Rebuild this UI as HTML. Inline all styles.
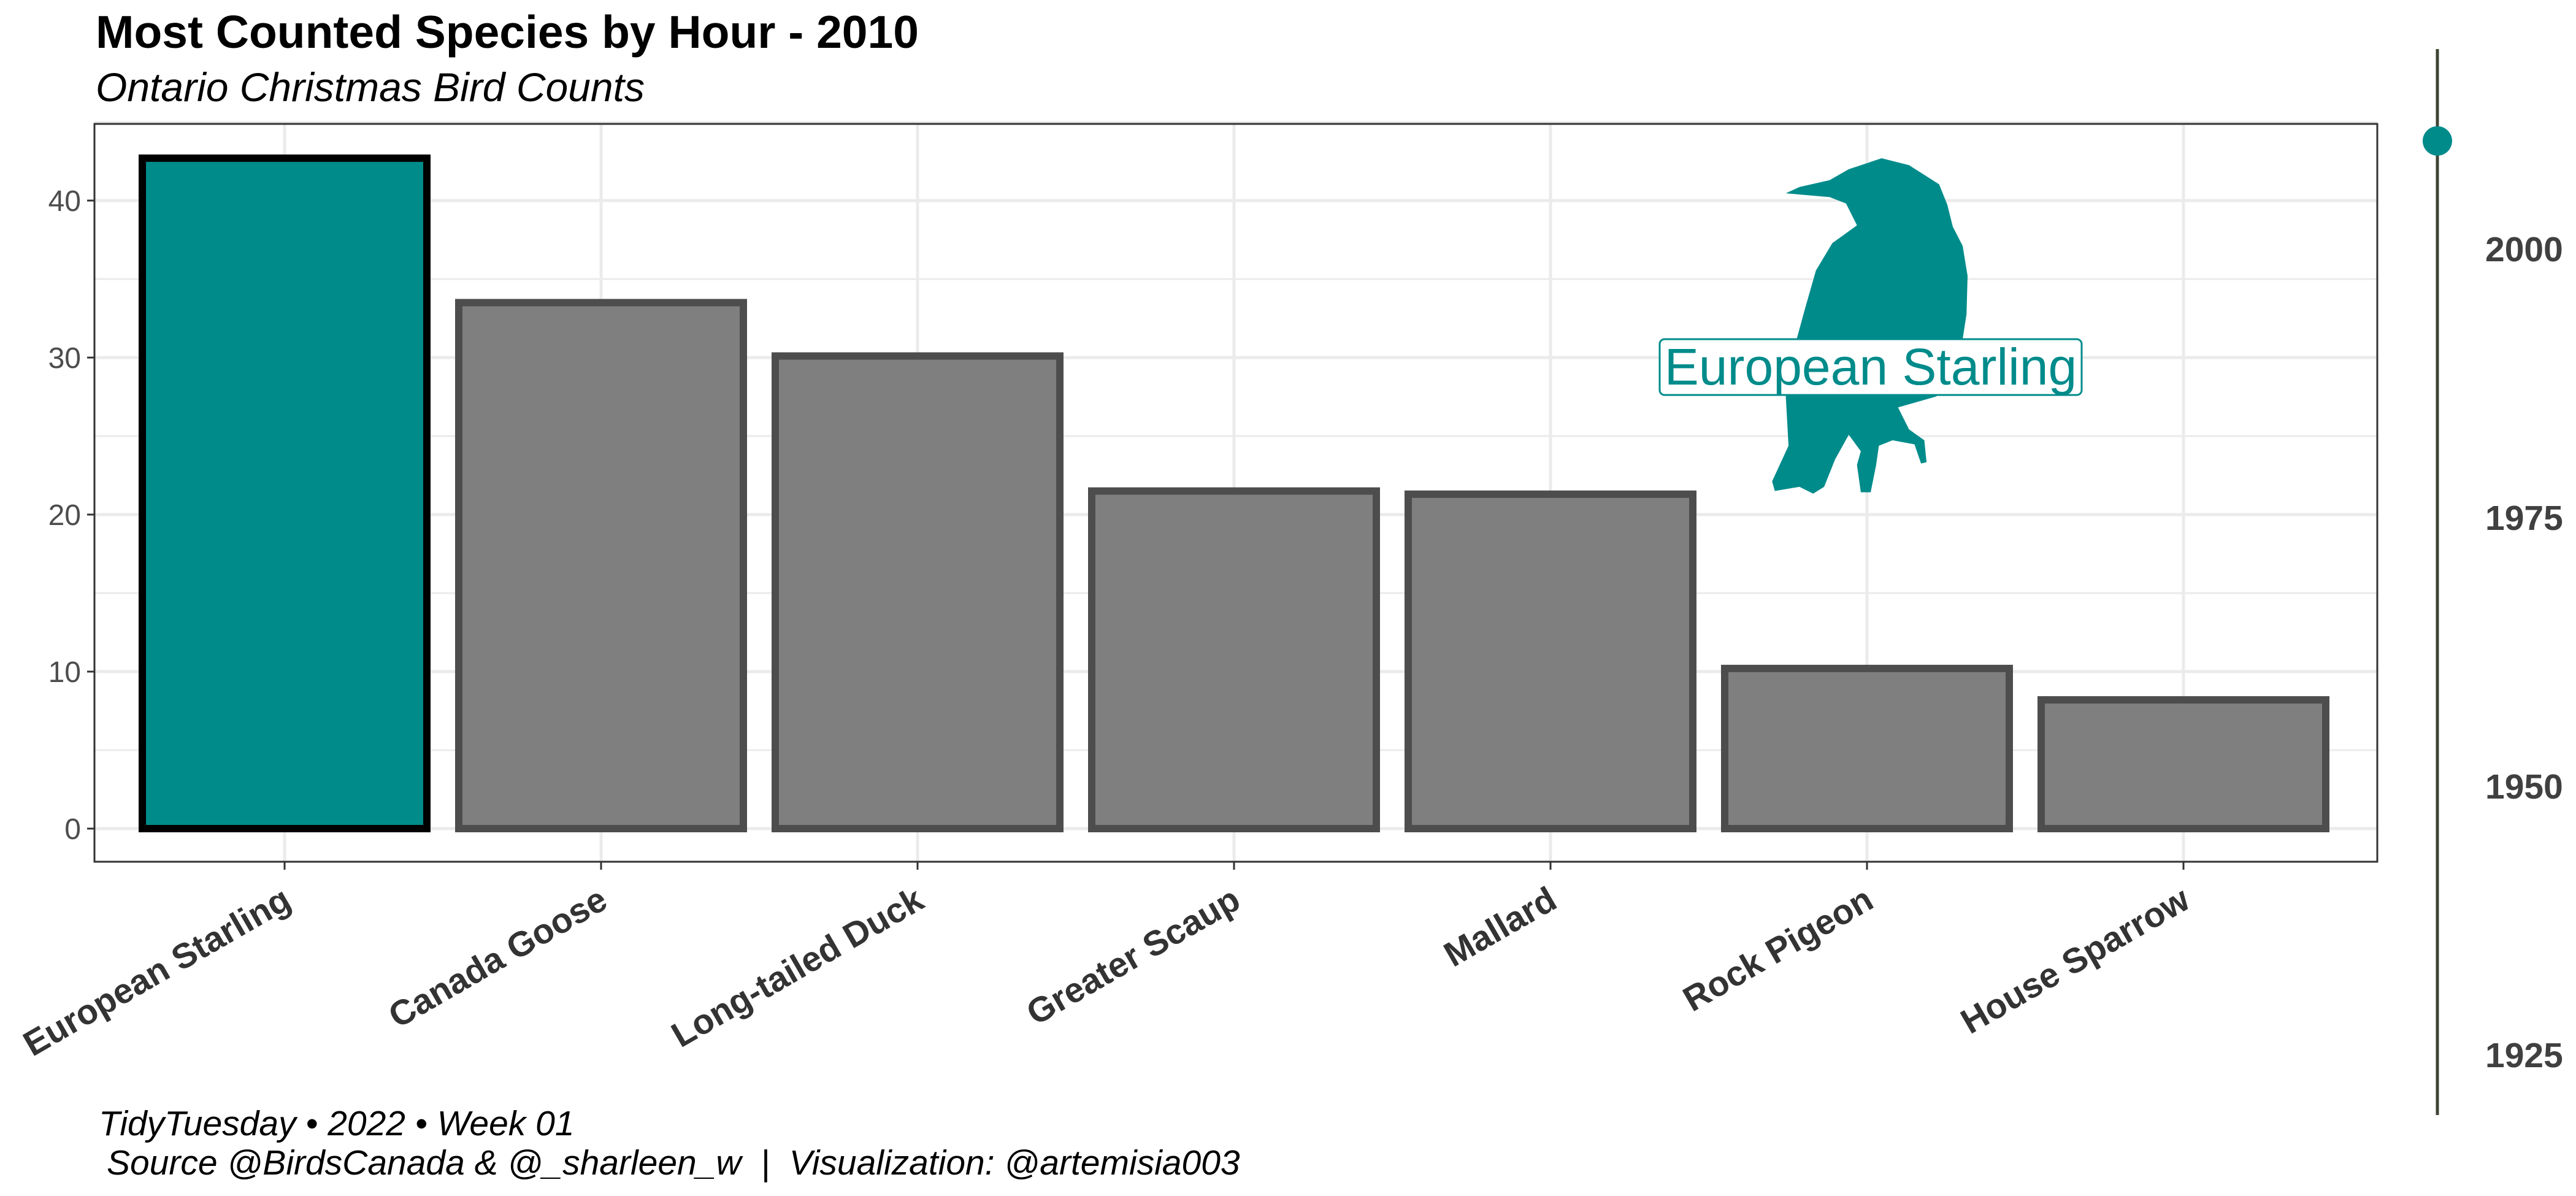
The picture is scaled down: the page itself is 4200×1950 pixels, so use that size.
<!DOCTYPE html>
<html><head><meta charset="utf-8"><style>
html,body{margin:0;padding:0;background:#fff;}
svg{display:block;font-family:"Liberation Sans",sans-serif;}
</style></head><body>
<svg id="chart" width="4200" height="1950" viewBox="0 0 4200 1950" xmlns="http://www.w3.org/2000/svg">
<rect width="4200" height="1950" fill="#fff"/>
<text x="156" y="78" font-size="75" font-weight="bold" fill="#000">Most Counted Species by Hour - 2010</text>
<text x="156" y="165" font-size="66" font-style="italic" fill="#000">Ontario Christmas Bird Counts</text>
<g id="grid"></g>
<g id="bars"></g>
<g transform="translate(2800,200) scale(0.892857,0.446429)">
<path fill="#008B8B" d="M300,130 L350,155 L405,225 L420,300 L430,380 L448,450 L457,560 L455,700 L448,790 L400,1000 L330,1040 L350,1120 L378,1160 L382,1240 L372,1245 L360,1175 L320,1160 L295,1180 L290,1250 L280,1350 L262,1350 L255,1250 L262,1200 L240,1140 L215,1230 L195,1330 L175,1355 L150,1330 L105,1345 L100,1310 L130,1180 L125,1000 L145,790 L160,680 L180,540 L210,440 L255,375 L235,295 L205,272 L125,258 L150,235 L205,210 L240,170 Z"/>
</g>
<g>
<rect x="2706" y="553" width="688" height="91" rx="8" fill="#fff" stroke="#008B8B" stroke-width="3"/>
<text x="3050" y="627" font-size="84" fill="#008B8B" text-anchor="middle">European Starling</text>
</g>
<rect x="154" y="202" width="3722" height="1203" fill="none" stroke="#333" stroke-width="3"/>
<g id="yaxis"></g>
<g id="xaxis"></g>
<g id="timeline"></g>
<text x="161" y="1851" font-size="57" font-style="italic" fill="#000">TidyTuesday • 2022 • Week 01</text>
<text x="174" y="1915" font-size="57" font-style="italic" fill="#000" xml:space="preserve">Source @BirdsCanada &amp; @_sharleen_w  |  Visualization: @artemisia003</text>
</svg>
<script>
const categories = ["European Starling","Canada Goose","Long-tailed Duck","Greater Scaup","Mallard","Rock Pigeon","House Sparrow"];
const values = [42.7, 33.5, 30.1, 21.5, 21.3, 10.2, 8.2];
const yTicks = [0, 10, 20, 30, 40];
const highlight = "European Starling";
const yearTicks = [1925, 1950, 1975, 2000];
const currentYear = [2010];

const NS = "http://www.w3.org/2000/svg";
const L = 154, R = 3876, T = 202, B = 1405;
const x = i => 464 + 516 * i;
const y = v => 1351 - 25.6 * v;
const yr = v => 405 - (v - 2000) * 438 / 25;
function mk(tag, attrs, parent) {
  const e = document.createElementNS(NS, tag);
  for (const k in attrs) e.setAttribute(k, attrs[k]);
  parent.appendChild(e);
  return e;
}
const grid = document.getElementById('grid');
mk('rect', {x: L, y: T, width: R - L, height: B - T, fill: '#fff'}, grid);
for (let v = 5; v <= 45; v += 10) {
  const g = mk('line', {x1: L, x2: R, y1: y(v), y2: y(v), stroke: '#ebebeb', 'stroke-width': 3}, grid);
  
  
}
yTicks.forEach(v => {
  const g = mk('line', {x1: L, x2: R, y1: y(v), y2: y(v), stroke: '#ebebeb', 'stroke-width': 5}, grid);
  
  
});
categories.forEach((c, i) => {
  const g = mk('line', {x1: x(i), x2: x(i), y1: T, y2: B, stroke: '#ebebeb', 'stroke-width': 5}, grid);
  
  
});
const bars = document.getElementById('bars');
categories.forEach((c, i) => {
  const hi = c === highlight;
  const b = mk('rect', {x: x(i) - 232, y: y(values[i]), width: 464, height: y(0) - y(values[i]),
    fill: hi ? '#008B8B' : '#7f7f7f', stroke: hi ? '#000' : '#4d4d4d', 'stroke-width': 12}, bars);
  
  
});
const ya = document.getElementById('yaxis');
yTicks.forEach(v => {
  mk('line', {x1: 142, x2: 154, y1: y(v), y2: y(v), stroke: '#333', 'stroke-width': 3}, ya);
  const t = mk('text', {x: 132, y: y(v) + 17, 'font-size': 48, fill: '#4d4d4d', 'text-anchor': 'end'}, ya);
  t.textContent = v;
  
  
});
const xa = document.getElementById('xaxis');
categories.forEach((c, i) => {
  mk('line', {x1: x(i), x2: x(i), y1: B, y2: B + 13, stroke: '#333', 'stroke-width': 3}, xa);
  const t = mk('text', {x: x(i) + 14, y: 1478, 'font-size': 57, 'font-weight': 'bold', fill: '#333',
    'text-anchor': 'end', transform: `rotate(-30 ${x(i) + 14} 1478)`}, xa);
  t.textContent = c;
  
  
});
const tl = document.getElementById('timeline');
mk('line', {x1: 3974, x2: 3974, y1: 80, y2: 1818, stroke: '#3d4535', 'stroke-width': 5}, tl);
yearTicks.forEach(v => {
  const t = mk('text', {x: 4052, y: yr(v) + 21, 'font-size': 57, 'font-weight': 'bold', fill: '#404040'}, tl);
  t.textContent = v;
  
  
});
currentYear.forEach(v => {
  const p = mk('circle', {cx: 3974, cy: yr(v), r: 24, fill: '#008B8B'}, tl);
  
  
});
</script>
</body></html>
